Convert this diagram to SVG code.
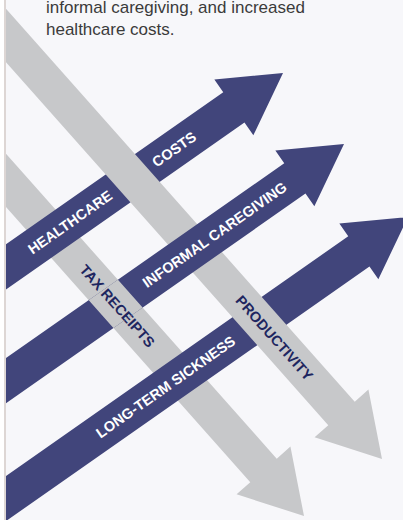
<svg xmlns="http://www.w3.org/2000/svg" xmlns:xlink="http://www.w3.org/1999/xlink" width="403" height="520" viewBox="0 0 403 520">
  <style>
    .blue { fill: #41457b; }
    .gray { fill: #c7c8ca; }
    .lbl { font-family: "Liberation Sans", Arial, sans-serif; font-weight: bold; font-size: 14.5px; text-anchor: middle; }
    .lw { fill: #ffffff; }
    .ln { fill: #1e2660; }
    .intro { font-family: "Liberation Sans", Arial, sans-serif; font-size: 17px; fill: #3b3b3b; }
  </style>
  <defs>
    <path id="blueShape" d="M0,0 L-60,-34 L-60,-18.5 L-700,-18.5 L-700,18.5 L-60,18.5 L-60,34 Z"/>
    <path id="grayShape" d="M0,0 L-61,-36 L-61,-17.7 L-700,-17.7 L-700,17.7 L-61,17.7 L-61,36 Z"/>
    <clipPath id="panel"><rect x="6" y="0" width="397" height="520"/></clipPath>
    <clipPath id="clipB2"><use xlink:href="#blueShape" href="#blueShape" transform="translate(344,144) rotate(-35)"/></clipPath>
  </defs>

  <rect x="0" y="0" width="403" height="520" fill="#ffffff"/>
  <rect x="6" y="0" width="397" height="520" fill="#f7f7fa"/>
  <rect x="4" y="0" width="2" height="520" fill="#ddd6d4"/>

  <g id="intro">
    <text class="intro" x="46" y="12.5">informal caregiving, and increased</text>
    <text class="intro" x="46" y="35">healthcare costs.</text>
  </g>

  <g id="connectors" clip-path="url(#panel)">
    <g id="tax-receipts" transform="translate(304,516) rotate(48.4)">
      <use xlink:href="#grayShape" href="#grayShape" class="gray"/>
      <text class="lbl ln" x="-281" y="5.2">TAX RECEIPTS</text>
    </g>
    <g id="healthcare-costs" transform="translate(283,73) rotate(-35)">
      <use xlink:href="#blueShape" href="#blueShape" class="blue"/>
      <text class="lbl lw" x="-133" y="5.2">COSTS</text>
      <text class="lbl lw" x="-260" y="5.2">HEALTHCARE</text>
    </g>
    <g id="long-term-sickness" transform="translate(408,217) rotate(-35)">
      <use xlink:href="#blueShape" href="#blueShape" class="blue"/>
      <text class="lbl lw" x="-296" y="5.2">LONG-TERM SICKNESS</text>
    </g>
    <g id="productivity" transform="translate(382,459) rotate(48.4)">
      <use xlink:href="#grayShape" href="#grayShape" class="gray"/>
      <text class="lbl ln" x="-162" y="5.2">PRODUCTIVITY</text>
    </g>
    <g id="informal-caregiving" transform="translate(344,144) rotate(-35)">
      <use xlink:href="#blueShape" href="#blueShape" class="blue"/>
      <text class="lbl lw" x="-158" y="5.2">INFORMAL CAREGIVING</text>
    </g>
    <g id="tax-receipts-over" clip-path="url(#clipB2)">
      <use xlink:href="#tax-receipts" href="#tax-receipts"/>
    </g>
  </g>
</svg>
